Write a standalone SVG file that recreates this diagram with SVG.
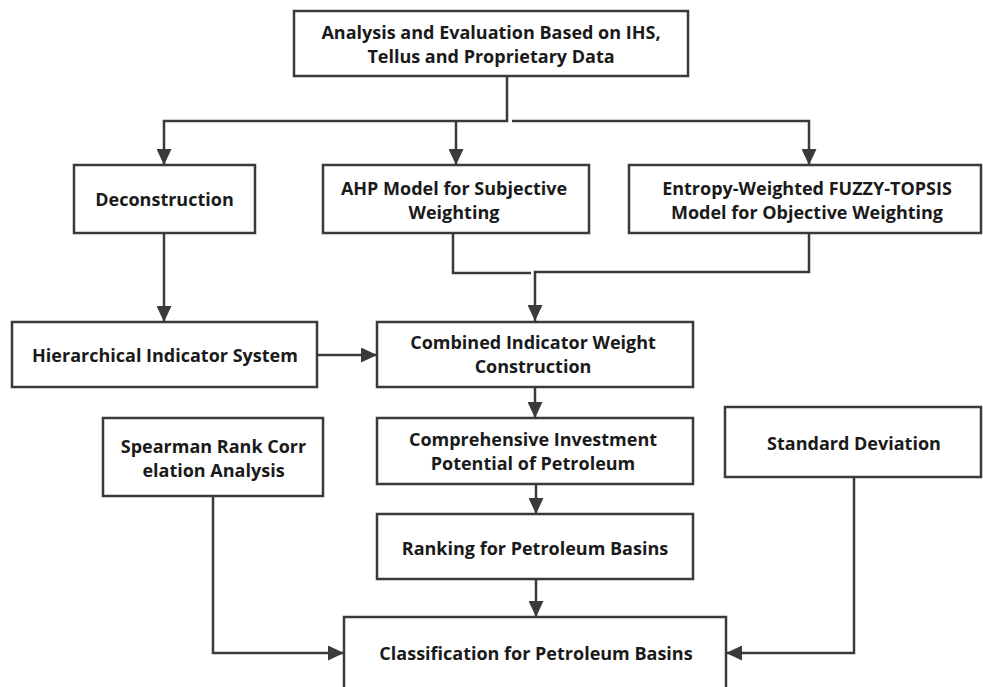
<svg xmlns="http://www.w3.org/2000/svg" width="983" height="687" viewBox="0 0 983 687">
<style>
.box{fill:#fff;stroke:#3a3a3a;stroke-width:2.5}
.t{font-family:"Open Sans","Noto Sans","DejaVu Sans",sans-serif;font-weight:bold;font-size:18px;fill:#1a1a1a;text-anchor:middle;dominant-baseline:central}
.c{fill:none;stroke:#3a3a3a;stroke-width:2.5}
</style>
<defs>
<marker id="ah" markerUnits="userSpaceOnUse" markerWidth="17" markerHeight="15" refX="16" refY="7.5" orient="auto">
<path d="M0,0 L16,7.5 L0,15 Z" fill="#3a3a3a"/>
</marker>
</defs>
<rect width="983" height="687" fill="#fff"/>
<g id="connectors">
<path class="c" d="M507,76 V121 H164 V165" marker-end="url(#ah)"/>
<path class="c" d="M456,121 V165" marker-end="url(#ah)"/>
<path class="c" d="M512,121 H809 V165" marker-end="url(#ah)"/>
<path class="c" d="M164,233 V322" marker-end="url(#ah)"/>
<path class="c" d="M453,233 V273 H531"/>
<path class="c" d="M809,233 V272 H535 V321" marker-end="url(#ah)"/>
<path class="c" d="M317,355 H377" marker-end="url(#ah)"/>
<path class="c" d="M535,387 V418" marker-end="url(#ah)"/>
<path class="c" d="M536,484 V514" marker-end="url(#ah)"/>
<path class="c" d="M536,579 V617" marker-end="url(#ah)"/>
<path class="c" d="M213,496 V653 H344" marker-end="url(#ah)"/>
<path class="c" d="M854,477 V653 H726" marker-end="url(#ah)"/>
</g>
<g id="n-top">
<rect class="box" x="294" y="11" width="394" height="65"/>
<text class="t" x="491" y="32">Analysis and Evaluation Based on IHS,</text>
<text class="t" x="491" y="56">Tellus and Proprietary Data</text>
</g>
<g id="n-decon">
<rect class="box" x="74" y="165" width="181" height="68"/>
<text class="t" x="164.5" y="199">Deconstruction</text>
</g>
<g id="n-ahp">
<rect class="box" x="323" y="165" width="266" height="68"/>
<text class="t" x="454" y="188">AHP Model for Subjective</text>
<text class="t" x="454" y="212">Weighting</text>
</g>
<g id="n-entropy">
<rect class="box" x="629" y="165" width="352" height="68"/>
<text class="t" x="807" y="188">Entropy-Weighted FUZZY-TOPSIS</text>
<text class="t" x="807" y="212">Model for Objective Weighting</text>
</g>
<g id="n-hier">
<rect class="box" x="12" y="322" width="305" height="65"/>
<text class="t" x="165" y="355">Hierarchical Indicator System</text>
</g>
<g id="n-combined">
<rect class="box" x="377" y="322" width="316" height="65"/>
<text class="t" x="533" y="342">Combined Indicator Weight</text>
<text class="t" x="533" y="366">Construction</text>
</g>
<g id="n-spearman">
<rect class="box" x="103" y="418" width="220" height="78"/>
<text class="t" x="213.5" y="446">Spearman Rank Corr</text>
<text class="t" x="213.5" y="470">elation Analysis</text>
</g>
<g id="n-comp">
<rect class="box" x="377" y="418" width="316" height="66"/>
<text class="t" x="533" y="439">Comprehensive Investment</text>
<text class="t" x="533" y="463">Potential of Petroleum</text>
</g>
<g id="n-std">
<rect class="box" x="725" y="407" width="256" height="70"/>
<text class="t" x="854" y="443">Standard Deviation</text>
</g>
<g id="n-rank">
<rect class="box" x="377" y="514" width="316" height="65"/>
<text class="t" x="535" y="548">Ranking for Petroleum Basins</text>
</g>
<g id="n-class">
<rect class="box" x="344" y="617" width="382" height="84"/>
<text class="t" x="536" y="653">Classification for Petroleum Basins</text>
</g>
</svg>
